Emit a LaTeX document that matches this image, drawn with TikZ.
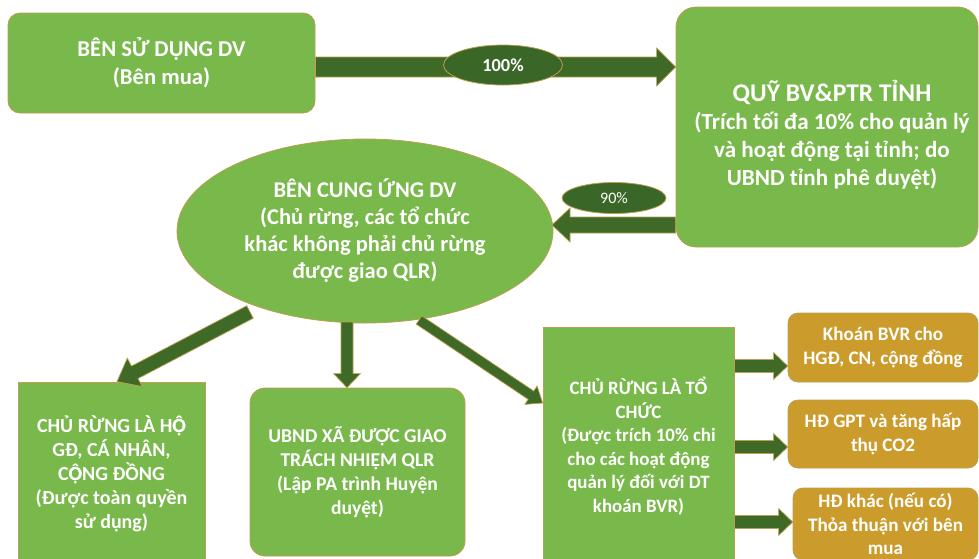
\documentclass[tikz,border=0pt]{standalone}
\usepackage{fontspec}
\setmainfont{Carlito}
\usetikzlibrary{calc,shapes.geometric}
\definecolor{lgreen}{RGB}{121,184,75}
\definecolor{dgreen}{RGB}{63,105,38}
\definecolor{lblgreen}{RGB}{58,102,40}
\definecolor{ochre}{RGB}{203,156,44}
\definecolor{rim}{RGB}{186,160,80}
\newcommand\Ohd{\rlap{Ô}Ọ}
\newcommand\fatarr[6]{%
  \coordinate (fas) at (#1);
  \coordinate (fae) at (#2);
  \coordinate (fab) at ($(fae)!#5!(fas)$);
  \filldraw[#6] ($(fas)!#3!90:(fae)$) -- ($(fab)!#3!-90:(fas)$) -- ($(fab)!#4!-90:(fas)$)
    -- (fae) -- ($(fab)!#4!90:(fas)$) -- ($(fab)!#3!90:(fas)$) -- ($(fas)!#3!-90:(fae)$) -- cycle;}
\begin{document}
\begin{tikzpicture}[x=1pt,y=-1pt,
  gbox/.style={draw=rim, line width=0.8pt, fill=lgreen, text=white, align=center, inner sep=0pt},
  obox/.style={gbox, fill=ochre, rounded corners=10pt, font=\bfseries\fontsize{19.1}{23.5}\selectfont},
  sbox/.style={gbox, font=\bfseries\fontsize{19.6}{24}\selectfont},
  lbl/.style={ellipse, fill=lblgreen, draw=rim, line width=0.8pt, text=white, inner sep=0pt},
  arr/.style={fill=dgreen, draw=rim, line width=0.7pt, line join=miter}]
\useasboundingbox (0,0) rectangle (979,558);
\clip (0,0) rectangle (979,558);

\node[gbox, rounded corners=12pt, minimum width=307pt, minimum height=100pt,
  font=\bfseries\fontsize{22.7}{28}\selectfont] (b1) at (161.5,63) {BÊN SỬ DỤNG DV\\(Bên mua)};

\node[gbox, rounded corners=20pt, minimum width=302pt, minimum height=240pt] (quy) at (827,127) {};
\node[text=white, align=center, inner sep=0pt, font=\bfseries\fontsize{23.1}{28}\selectfont] (quyt) at (832,135)
  {{\fontsize{25.5}{28}\selectfont QUỸ BV\&PTR TỈNH}\\(Trích tối đa 10\% cho quản lý\\và hoạt động tại tỉnh; do\\UBND tỉnh phê duyệt)};

\node[gbox, ellipse, minimum width=376pt, minimum height=184pt,
  font=\bfseries\fontsize{22.5}{27}\selectfont] (cung) at (365,231)
  {BÊN CUNG ỨNG DV\\(Chủ rừng, các tổ chức\\khác không phải chủ rừng\\được giao QLR)};

\node[sbox, minimum width=187pt, minimum height=183pt, font=\bfseries\fontsize{20}{24}\selectfont] (hogd) at (111.5,473.5)
  {CHỦ RỪNG LÀ H\Ohd\\GĐ, CÁ NHÂN,\\C\Ohd NG ĐỒNG\\(Được toàn quyền\\sử dụng)};
\node[sbox, rounded corners=15pt, minimum width=215pt, minimum height=168pt] (ubnd) at (357.5,472)
  {UBND XÃ ĐƯỢC GIAO\\TRÁCH NHIỆM QLR\\(Lập PA trình Huyện\\duyệt)};
\node[sbox, minimum width=191pt, minimum height=238pt, font=\bfseries\fontsize{18.9}{23.5}\selectfont] (chuc) at (638.5,446)
  {CHỦ RỪNG LÀ TỔ\\CHỨC\\(Được trích 10\% chi\\cho các hoạt động\\quản lý đối với DT\\khoán BVR)};

\node[obox, minimum width=190pt, minimum height=69pt] (oa) at (883,347.5) {Khoán BVR cho\\HGĐ, CN, cộng đồng};
\node[obox, minimum width=190pt, minimum height=68pt] (ob) at (883,434) {HĐ GPT và tăng hấp\\thụ CO2};
\node[obox, minimum width=185pt, minimum height=72pt] (oc) at (885.5,524) {HĐ khác (nếu có)\\Thỏa thuận với bên\\mua};

% arrows
\fatarr{b1.east |- 0,67}{quy.west |- 0,67}{10pt}{19pt}{19pt}{arr}
\coordinate (t90) at (552,225);
\fatarr{quy.west |- 0,225}{t90}{8pt}{17pt}{18pt}{arr}
\coordinate (ltail) at (250,312);
\fatarr{ltail}{hogd.north -| 117,0}{7pt}{16pt}{20pt}{arr}
\coordinate (mtail) at (347,322);
\fatarr{mtail}{ubnd.north -| 347,0}{6pt}{13.5pt}{14pt}{arr}
\coordinate (rtail) at (419,320);
\fatarr{rtail}{chuc.west |- 0,403}{5pt}{11pt}{14pt}{arr}
\fatarr{chuc.east |- 0,366}{oa.west |- 0,366}{6.5pt}{13.5pt}{14pt}{arr}
\fatarr{chuc.east |- 0,447}{ob.west |- 0,447}{6.5pt}{13.5pt}{14pt}{arr}
\fatarr{chuc.east |- 0,522}{oc.west |- 0,522}{6.5pt}{13.5pt}{14pt}{arr}

\node[lbl, minimum width=119pt, minimum height=40pt, font=\bfseries\fontsize{18.4}{18}\selectfont] (p100) at (503,65) {100\%};
\node[lbl, minimum width=104pt, minimum height=31pt, font=\fontsize{16}{16}\selectfont] (p90) at (614,198) {90\%};
\end{tikzpicture}
\end{document}
